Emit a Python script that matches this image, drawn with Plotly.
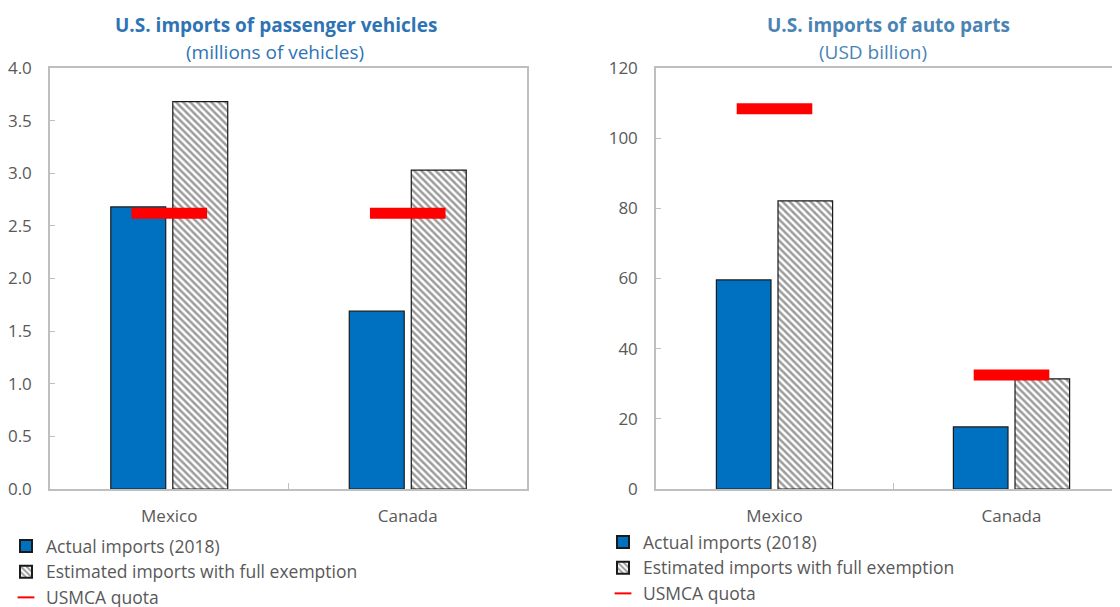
import plotly.graph_objects as go

categories = ["Mexico", "Canada"]

# Panel 1: passenger vehicles (millions)
veh_actual = [2.68, 1.69]
veh_estimated = [3.68, 3.03]
veh_quota = [2.62, 2.62]
veh_ticks = [0, 0.5, 1.0, 1.5, 2.0, 2.5, 3.0, 3.5, 4.0]

# Panel 2: auto parts (USD billion)
parts_actual = [59.6, 17.7]
parts_estimated = [82.1, 31.4]
parts_quota = [108.4, 32.5]
parts_ticks = [0, 20, 40, 60, 80, 100, 120]

names = ["Actual imports (2018)", "Estimated imports with full exemption", "USMCA quota"]

BLUE = "#0070C0"
GRAY_TXT = "#595959"
FRAME = "#BFBFBF"
FONT = "Open Sans"

W, H = 1120, 607
OFF = 8  # page body margin


def fx(px):
    return (px - OFF) / W


def fy(py):
    return 1 - (py - OFF) / H


fig = go.Figure()


def add_panel(xa, ya, legend, actual, estimated, quota):
    fig.add_trace(go.Bar(
        x=categories, y=actual, name=names[0], xaxis=xa, yaxis=ya, legend=legend,
        marker=dict(color=BLUE, line=dict(color="#1a1a1a", width=1.2)),
        hoverinfo="y"))
    fig.add_trace(go.Bar(
        x=categories, y=estimated, name=names[1], xaxis=xa, yaxis=ya, legend=legend,
        marker=dict(color="white", line=dict(color="#1a1a1a", width=1.2),
                    pattern=dict(shape="\\", size=5, solidity=0.5,
                                 fgcolor="#3a3a3a", bgcolor="white")),
        hoverinfo="y"))
    fig.add_trace(go.Scatter(
        x=categories, y=quota, name=names[2], xaxis=xa, yaxis=ya, legend=legend,
        mode="markers",
        marker=dict(symbol="line-ew", size=54, color="#FF0000",
                    line=dict(color="#FF0000", width=11)),
        hoverinfo="y"))


add_panel("x", "y", "legend", veh_actual, veh_estimated, veh_quota)
add_panel("x2", "y2", "legend2", parts_actual, parts_estimated, parts_quota)

y_dom = [fy(489), fy(68)]

axis_font = dict(family=FONT, size=17, color=GRAY_TXT)
leg_font = dict(family=FONT, size=17.5, color=GRAY_TXT)

fig.update_layout(
    width=W, height=H,
    margin=dict(l=0, r=0, t=0, b=0, autoexpand=False),
    paper_bgcolor="white", plot_bgcolor="white",
    barmode="group", bargap=0.48, bargroupgap=0.114,
    font=dict(family=FONT, color=GRAY_TXT),
    showlegend=True,
    xaxis=dict(domain=[fx(50), fx(527)], range=[-0.5, 1.5], type="category",
               showline=True, linecolor=FRAME, linewidth=1.5, mirror=True,
               ticks="inside", tickson="boundaries", ticklen=6, tickcolor=FRAME,
               tickfont=axis_font, ticklabelstandoff=11, showgrid=False, zeroline=False,
               automargin=False),
    yaxis=dict(domain=y_dom, range=[0, 4.0], tickvals=veh_ticks, tickformat=".1f",
               showline=True, linecolor=FRAME, linewidth=1.5, mirror=True,
               ticks="inside", ticklen=5, tickcolor=FRAME,
               tickfont=axis_font, ticklabelstandoff=13, showgrid=False, zeroline=False,
               automargin=False),
    xaxis2=dict(domain=[fx(656), 1.0], range=[-0.5, -0.5 + (W + OFF - 656) / 237],
                type="category", anchor="y2",
                showline=True, linecolor=FRAME, linewidth=1.5, mirror=True,
                ticks="inside", tickson="boundaries", ticklen=6, tickcolor=FRAME,
                tickfont=axis_font, ticklabelstandoff=11, showgrid=False, zeroline=False,
                automargin=False),
    yaxis2=dict(domain=y_dom, range=[0, 120], tickvals=parts_ticks, anchor="x2",
                showline=True, linecolor=FRAME, linewidth=1.5, mirror=False,
                ticks="inside", ticklen=5, tickcolor=FRAME,
                tickfont=axis_font, ticklabelstandoff=13, showgrid=False, zeroline=False,
                automargin=False),
    legend=dict(x=fx(6), y=fy(528), xanchor="left", yanchor="top",
                font=leg_font, bgcolor="rgba(0,0,0,0)", itemsizing="constant",
                tracegroupgap=0),
    legend2=dict(x=fx(603), y=fy(524), xanchor="left", yanchor="top",
                 font=leg_font, bgcolor="rgba(0,0,0,0)", itemsizing="constant",
                 tracegroupgap=0),
    annotations=[
        dict(text="<b>U.S. imports of passenger vehicles</b>", x=fx(276), y=fy(25),
             xref="paper", yref="paper", showarrow=False, xanchor="center", yanchor="middle",
             font=dict(family=FONT, size=19, color="#2E74B5")),
        dict(text="(millions of vehicles)", x=fx(275), y=fy(52),
             xref="paper", yref="paper", showarrow=False, xanchor="center", yanchor="middle",
             font=dict(family=FONT, size=19, color="#2E74B5")),
        dict(text="<b>U.S. imports of auto parts</b>", x=fx(888), y=fy(25),
             xref="paper", yref="paper", showarrow=False, xanchor="center", yanchor="middle",
             font=dict(family=FONT, size=19, color="#4A84B4")),
        dict(text="(USD billion)", x=fx(873), y=fy(52),
             xref="paper", yref="paper", showarrow=False, xanchor="center", yanchor="middle",
             font=dict(family=FONT, size=19, color="#4A84B4")),
    ],
)

fig.write_html("out.html")
